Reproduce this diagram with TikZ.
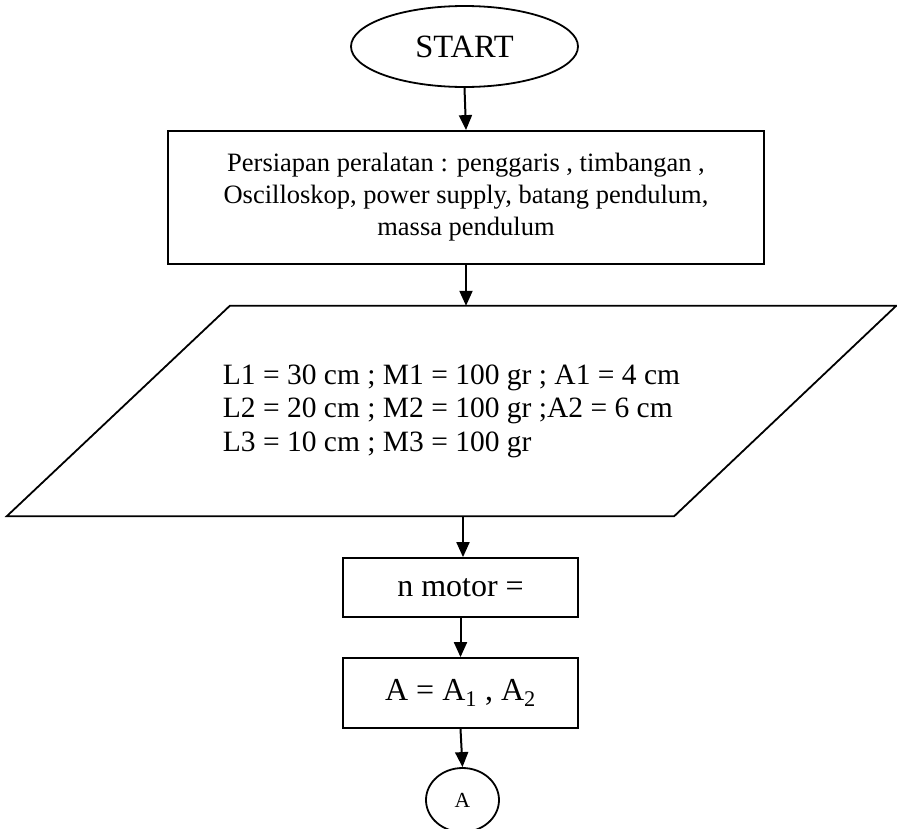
\documentclass[tikz,border=0pt]{standalone}
\usepackage{fontspec}
\setmainfont{Liberation Serif}
\usetikzlibrary{shapes.geometric,arrows.meta,calc}
\begin{document}
\begin{tikzpicture}[x=1pt,y=-1pt,
  shapeline/.style={draw=black,line width=1.8pt},
  boxnode/.style={shapeline, rectangle, inner sep=0pt, align=center},
  flow/.style={line width=2pt,-{Triangle[length=15pt,width=13pt]}},
]
\useasboundingbox (0,0) rectangle (897,828);
\node[shapeline, ellipse, minimum width=227pt, minimum height=81pt, inner sep=0pt,
      font=\fontsize{32.5}{36}\selectfont] (start) at (464.5,46.5) {START};
\node[boxnode, minimum width=596pt, minimum height=133pt,
      font=\fontsize{26.5}{32}\selectfont] (prep) at (466,197.5)
  {Persiapan peralatan : penggaris , timbangan ,\\
   Oscilloskop, power supply, batang pendulum,\\
   massa pendulum};
\node[rectangle, minimum width=889pt, minimum height=210pt, inner sep=0pt, align=left,
      font=\fontsize{29.5}{33.5}\selectfont] (data) at (451.5,411)
  {L1 = 30 cm ; M1 = 100 gr ; A1 = 4 cm\\
   L2 = 20 cm ; M2 = 100 gr ;A2 = 6 cm\\
   L3 = 10 cm ; M3 = 100 gr};
\draw[shapeline, line join=miter] ($(data.north west)+(223,0)$) -- (data.north east)
  -- ($(data.south east)+(-222,0)$) -- (data.south west) -- cycle;
\node[boxnode, minimum width=235pt, minimum height=59pt,
      font=\fontsize{32}{36}\selectfont] (motor) at (460.5,587.5) {n motor =};
\node[boxnode, minimum width=235pt, minimum height=70pt,
      font=\fontsize{32}{36}\selectfont] (aeq) at (460.5,693)
  {A = A\textsubscript{1} , A\textsubscript{2}};
\node[shapeline, ellipse, minimum width=73pt, minimum height=64pt, inner sep=0pt,
      font=\fontsize{21.5}{24}\selectfont] (conn) at (462.5,800) {A};
\draw[flow] (start.south) -- (prep.north);
\draw[flow] (prep.south) -- (prep.south |- data.north);
\draw[flow] ($(data.south -| motor.north)+(2.5,0)$) -- ($(motor.north)+(2.5,0)$);
\draw[flow] (motor.south) -- (aeq.north);
\draw[flow] (aeq.south) -- (conn.north);
\end{tikzpicture}
\end{document}
